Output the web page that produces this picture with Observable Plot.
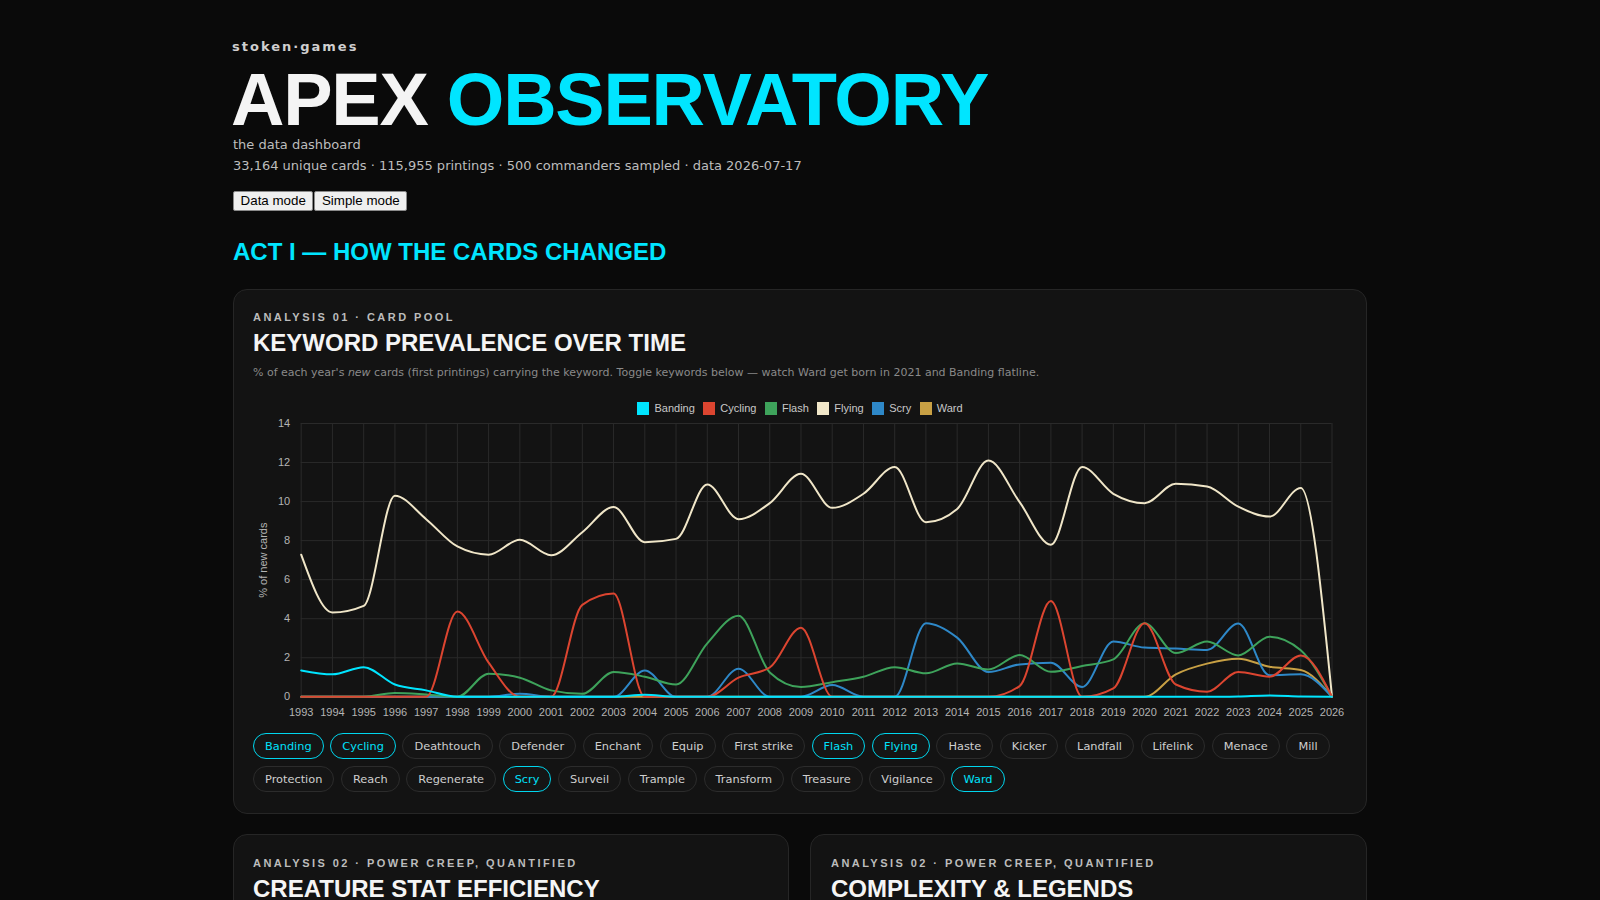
<!DOCTYPE html>
<html>
<head>
<meta charset="utf-8">
<script src="https://cdn.jsdelivr.net/npm/d3@7"></script>
<script src="https://cdn.jsdelivr.net/npm/@observablehq/plot@0.6"></script>
<style>
  html, body { margin: 0; padding: 0; background: #0a0a0a; }
  body { width: 1600px; height: 900px; overflow: hidden; position: relative; font-family: "DejaVu Sans", sans-serif; color: #ddd; }
  .abs { position: absolute; }
  .brand { left: 232px; top: 39px; font: bold 13px/16px "DejaVu Sans"; letter-spacing: 2px; color: #cfcfcf; white-space: nowrap; }
  .title { left: 231px; top: 69.9px; font: bold 74px/60px "Liberation Sans"; letter-spacing: -1.25px; color: #f4f4f4; white-space: nowrap; }
  .title span { color: #00e5ff; }
  .sub { left: 233px; font: 13px/16px "DejaVu Sans"; color: #bdbdbd; white-space: nowrap; }
  .btns { left: 233px; top: 190.5px; display: flex; gap: 1px; }
  .btns button { height: 20px; padding: 0 6.6px; border: 1px solid #8a8a8a; background: #efefef; color: #000; font: 13.33px "Liberation Sans"; border-radius: 2px; }
  .act { left: 233px; top: 238px; font: bold 24px/28px "Liberation Sans"; color: #00e5ff; white-space: nowrap; }
  .card { background: #131313; border: 1px solid #262626; border-radius: 14px; box-sizing: border-box; }
  .label { font: bold 11px/14px "Liberation Sans"; letter-spacing: 2.45px; color: #bcbcbc; white-space: nowrap; }
  .ctitle { font: bold 24px/28px "Liberation Sans"; color: #f5f5f5; white-space: nowrap; }
  .desc { font: 11px/14px "DejaVu Sans"; color: #8a8a8a; white-space: nowrap; }
  .legend { left: 253px; width: 1094px; top: 401.8px; display: flex; justify-content: center; gap: 8.5px; font: 11px/13px "Liberation Sans"; color: #c8c8c8; }
  .legend .it { display: flex; align-items: center; gap: 5px; }
  .legend .sw { width: 12px; height: 13px; display: inline-block; }
  .chips { left: 253px; display: flex; gap: 6.6px; }
  .chip { height: 26px; box-sizing: border-box; padding: 0 11px; border: 1px solid #2c2c2c; border-radius: 13px; font: 11.35px/24px "DejaVu Sans"; color: #cfcfcf; background: #151515; white-space: nowrap; }
  .chip.on { border-color: #00d6ee; color: #00e1fa; }
  #chart { left: 253px; top: 413px; }
</style>
</head>
<body>
<div class="abs brand">stoken·games</div>
<div class="abs title">APEX <span>OBSERVATORY</span></div>
<div class="abs sub" style="top:136.5px">the data dashboard</div>
<div class="abs sub" style="top:158.2px">33,164 unique cards · 115,955 printings · 500 commanders sampled · data 2026-07-17</div>
<div class="abs btns"><button>Data mode</button><button>Simple mode</button></div>
<div class="abs act">ACT I — HOW THE CARDS CHANGED</div>

<div class="abs card" style="left:233px; top:289px; width:1134px; height:524.5px"></div>
<div class="abs label" style="left:253px; top:309.9px">ANALYSIS 01 · CARD POOL</div>
<div class="abs ctitle" style="left:253px; top:328.7px">KEYWORD PREVALENCE OVER TIME</div>
<div class="abs desc" style="left:253px; top:366px">% of each year's <i>new</i> cards (first printings) carrying the keyword. Toggle keywords below — watch Ward get born in 2021 and Banding flatline.</div>
<div class="abs legend" id="legend"></div>
<div class="abs" id="chart"></div>
<div class="abs chips" id="row1" style="top:733.3px"></div>
<div class="abs chips" id="row2" style="top:765.7px"></div>

<div class="abs card" style="left:233px; top:834px; width:556px; height:200px"></div>
<div class="abs card" style="left:810px; top:834px; width:557px; height:200px"></div>
<div class="abs label" style="left:253px; top:856px">ANALYSIS 02 · POWER CREEP, QUANTIFIED</div>
<div class="abs ctitle" style="left:253px; top:874.7px">CREATURE STAT EFFICIENCY</div>
<div class="abs label" style="left:831px; top:856px">ANALYSIS 02 · POWER CREEP, QUANTIFIED</div>
<div class="abs ctitle" style="left:831px; top:874.7px">COMPLEXITY &amp; LEGENDS</div>

<script>
const years = d3.range(1993, 2027);
const keywords = ["Banding", "Cycling", "Flash", "Flying", "Scry", "Ward"];
const colors = ["#00e5ff", "#dc4530", "#3ea35b", "#f0e6c8", "#2e88c8", "#c8a044"];
const yTicks = [0, 2, 4, 6, 8, 10, 12, 14];

//               1993  1994  1995  1996  1997  1998  1999  2000  2001  2002  2003  2004  2005  2006  2007  2008  2009  2010  2011  2012  2013  2014  2015  2016  2017  2018  2019  2020  2021  2022  2023  2024  2025  2026
const banding = [1.35, 1.15, 1.52, 0.63, 0.33, 0,    0,    0,    0,    0,    0,    0.1,  0,    0,    0,    0,    0,    0,    0,    0,    0,    0,    0,    0,    0,    0,    0,    0,    0,    0,    0.02, 0.07, 0.02, 0];
const cycling = [0,    0,    0,    0,    0,    4.37, 1.75, 0,    0,    4.71, 5.29, 0,    0,    0,    0.98, 1.5,  3.54, 0,    0,    0,    0,    0,    0,    0.55, 4.91, 0,    0.43, 3.77, 0.63, 0.26, 1.27, 1.03, 2.12, 0];
const flash   = [0,    0,    0,    0.2,  0.12, 0,    1.18, 0.98, 0.33, 0.15, 1.27, 1.03, 0.63, 2.74, 4.15, 1.25, 0.5,  0.75, 1.03, 1.52, 1.2,  1.71, 1.4,  2.14, 1.28, 1.58, 1.92, 3.77, 2.24, 2.83, 2.12, 3.08, 2.38, 0];
const flying  = [7.28, 4.32, 4.66, 10.3, 9.1,  7.7,  7.28, 8.04, 7.25, 8.43, 9.72, 7.92, 8.09, 10.88,9.1,  9.92, 11.42,9.68, 10.4, 11.77,8.94, 9.62, 12.1, 9.97, 7.79, 11.77,10.4, 9.92, 10.91,10.77,9.74, 9.23, 10.7, 0];
const scry    = [0,    0,    0,    0,    0,    0,    0,    0.15, 0,    0,    0,    1.35, 0,    0,    1.44, 0,    0,    0.6,  0,    0,    3.77, 3.03, 1.27, 1.66, 1.75, 0.5,  2.83, 2.52, 2.47, 2.4,  3.75, 1.1,  1.15, 0];
const ward    = [0,    0,    0,    0,    0,    0,    0,    0,    0,    0,    0,    0,    0,    0,    0,    0,    0,    0,    0,    0,    0,    0,    0,    0,    0,    0,    0,    0,    1.15, 1.7,  1.95, 1.54, 1.37, 0];

const chipRow1 = ["Banding", "Cycling", "Deathtouch", "Defender", "Enchant", "Equip", "First strike", "Flash", "Flying", "Haste", "Kicker", "Landfall", "Lifelink", "Menace", "Mill"];
const chipRow2 = ["Protection", "Reach", "Regenerate", "Scry", "Surveil", "Trample", "Transform", "Treasure", "Vigilance", "Ward"];

const seriesValues = [banding, cycling, flash, flying, scry, ward];
const rows = keywords.flatMap((k, i) => years.map((y, j) => ({ keyword: k, year: y, value: seriesValues[i][j] })));
const drawOrder = keywords.slice().reverse();

// legend
const leg = document.getElementById("legend");
keywords.forEach((k, i) => {
  const it = document.createElement("div");
  it.className = "it";
  it.innerHTML = `<span class="sw" style="background:${colors[i]}"></span><span>${k}</span>`;
  leg.appendChild(it);
});

// chips
function chips(id, list) {
  const el = document.getElementById(id);
  list.forEach(k => {
    const c = document.createElement("div");
    c.className = "chip" + (keywords.includes(k) ? " on" : "");
    c.textContent = k;
    el.appendChild(c);
  });
}
chips("row1", chipRow1);
chips("row2", chipRow2);

const plot = Plot.plot({
  width: 1094,
  height: 308,
  marginLeft: 47.7,
  marginRight: 15.5,
  marginTop: 10,
  marginBottom: 24.7,
  style: { background: "transparent", color: "#b4b4b4", fontFamily: "Liberation Sans", fontSize: "11px" },
  x: { domain: [1993, 2026], ticks: years, tickFormat: d => String(d), tickSize: 0, tickPadding: 11, label: null },
  y: { domain: [0, 14], ticks: yTicks, tickSize: 0, tickPadding: 11, label: null },
  color: { domain: keywords, range: colors },
  marks: [
    Plot.gridX(years, { stroke: "#2a2a2a", strokeOpacity: 1 }),
    Plot.gridY(yTicks, { stroke: "#2a2a2a", strokeOpacity: 1 }),
    Plot.axisX({ ticks: years, tickFormat: d => String(d), tickSize: 0, tickPadding: 11, label: null }),
    Plot.axisY({ ticks: yTicks, tickSize: 0, tickPadding: 11, label: null }),
    Plot.text(["% of new cards"], { frameAnchor: "left", dx: -37.7, rotate: -90, text: d => d, fill: "#b4b4b4", fontSize: 11, textAnchor: "middle", lineAnchor: "middle" }),
    ...drawOrder.map(k => Plot.line(rows.filter(r => r.keyword === k), {
      x: "year", y: "value", stroke: "keyword", strokeWidth: 2, curve: "monotone-x"
    }))
  ]
});
document.getElementById("chart").appendChild(plot);
</script>
</body>
</html>
